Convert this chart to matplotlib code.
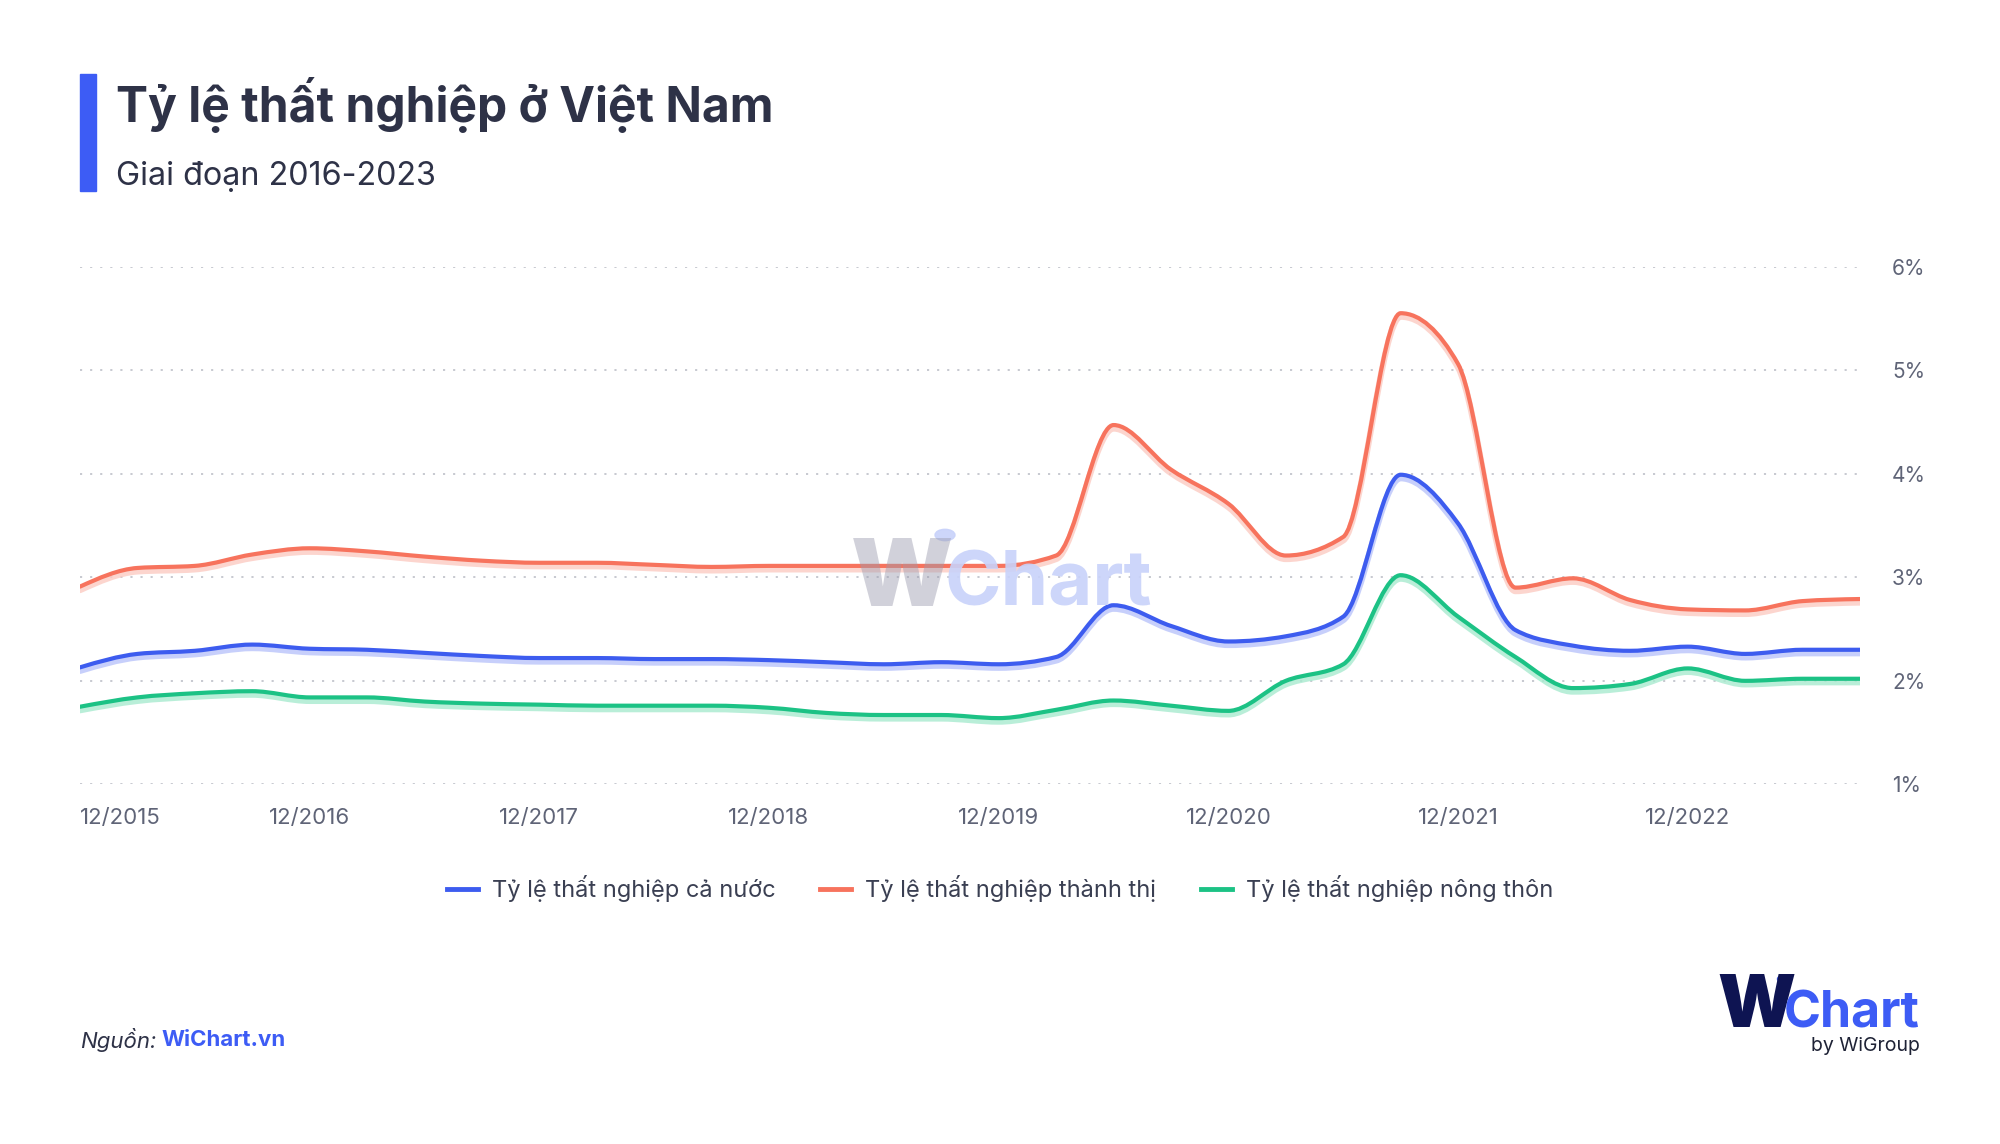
import matplotlib
matplotlib.use("Agg")
import matplotlib.pyplot as plt
import numpy as np
from matplotlib.path import Path
from matplotlib.patches import PathPatch, Rectangle, Circle
from matplotlib.lines import Line2D
import matplotlib.patheffects as pe

plt.rcParams['font.family'] = ['Inter', 'DejaVu Sans']

# ---------------- data ----------------
quarters = ["12/2015", "3/2016", "6/2016", "9/2016", "12/2016", "3/2017", "6/2017", "9/2017",
            "12/2017", "3/2018", "6/2018", "9/2018", "12/2018", "3/2019", "6/2019", "9/2019",
            "12/2019", "3/2020", "6/2020", "9/2020", "12/2020", "3/2021", "6/2021", "9/2021",
            "12/2021", "3/2022", "6/2022", "9/2022", "12/2022", "3/2023", "6/2023", "9/2023"]

ca_nuoc = [2.13, 2.26, 2.29, 2.35, 2.31, 2.30, 2.27, 2.24, 2.22, 2.22, 2.21, 2.21, 2.20, 2.18,
           2.16, 2.18, 2.16, 2.23, 2.73, 2.53, 2.38, 2.43, 2.62, 3.99, 3.52, 2.49, 2.34, 2.29,
           2.33, 2.26, 2.30, 2.30]
thanh_thi = [2.91, 3.09, 3.11, 3.22, 3.28, 3.25, 3.20, 3.16, 3.14, 3.14, 3.12, 3.10, 3.11, 3.11,
             3.11, 3.11, 3.11, 3.21, 4.47, 4.04, 3.71, 3.21, 3.39, 5.55, 5.06, 2.90, 2.99, 2.78,
             2.69, 2.68, 2.77, 2.79]
nong_thon = [1.75, 1.84, 1.88, 1.90, 1.84, 1.84, 1.80, 1.78, 1.77, 1.76, 1.76, 1.76, 1.74, 1.69,
             1.67, 1.67, 1.64, 1.72, 1.81, 1.76, 1.71, 2.00, 2.16, 3.02, 2.62, 2.23, 1.93, 1.97,
             2.12, 2.00, 2.02, 2.02]

series_names = ["Tỷ lệ thất nghiệp cả nước", "Tỷ lệ thất nghiệp thành thị", "Tỷ lệ thất nghiệp nông thôn"]
series_colors = ["#3D5CEF", "#F7735D", "#1CC285"]
shadow_colors = ["#B9C4FA", "#FCCBC2", "#A8EACF"]

y_ticks = [1, 2, 3, 4, 5, 6]
x_tick_labels = ["12/2015", "12/2016", "12/2017", "12/2018", "12/2019", "12/2020", "12/2021", "12/2022"]


def monotone_path(x, y):
    """Bezier path of a monotone cubic (d3 curveMonotoneX style) through the data points."""
    x = np.asarray(x, float)
    y = np.asarray(y, float)
    n = len(x)
    h = np.diff(x)
    s = np.diff(y) / h
    t = np.zeros(n)
    for i in range(1, n - 1):
        h0, h1 = h[i - 1], h[i]
        s0, s1 = s[i - 1], s[i]
        p = (s0 * h1 + s1 * h0) / (h0 + h1)
        t[i] = (np.sign(s0) + np.sign(s1)) * min(abs(s0), abs(s1), 0.5 * abs(p))
    t[0] = (3 * s[0] - t[1]) / 2
    t[-1] = (3 * s[-1] - t[-2]) / 2
    verts = [(x[0], y[0])]
    codes = [Path.MOVETO]
    for i in range(n - 1):
        dx = h[i] / 3
        verts += [(x[i] + dx, y[i] + dx * t[i]), (x[i + 1] - dx, y[i + 1] - dx * t[i + 1]),
                  (x[i + 1], y[i + 1])]
        codes += [Path.CURVE4] * 3
    return Path(verts, codes)


# ---------------- figure ----------------
W, H = 2000, 1144
fig = plt.figure(figsize=(20, 11.44), dpi=100)
fig.patch.set_facecolor("white")

ax = fig.add_axes([80 / W, 1 - 784.4 / H, (1860 - 80) / W, (784.4 - 266.6) / H])
ax.set_facecolor("none")

xs = np.arange(len(quarters))
for vals, col, sh in zip([ca_nuoc, thanh_thi, nong_thon], series_colors, shadow_colors):
    path = monotone_path(xs, vals)
    patch = PathPatch(path, fill=False, edgecolor=col, linewidth=3.0, capstyle="round",
                      joinstyle="round", zorder=3)
    patch.set_path_effects([pe.SimpleLineShadow(offset=(0, -2.5), shadow_color=sh, alpha=0.8,
                                                linewidth=4.5),
                            pe.Normal()])
    ax.add_patch(patch)

ax.set_xlim(0, len(quarters) - 1)
ax.set_ylim(1, 6)

# grid
ax.set_yticks(y_ticks)
ax.yaxis.grid(True, color="#B8BBC4", linestyle=(0, (1.4, 5.2)), linewidth=1.1)
ax.xaxis.grid(False)
for sp in ax.spines.values():
    sp.set_visible(False)
ax.yaxis.tick_right()
ax.set_yticklabels([f"{v}%" for v in y_ticks])
ax.tick_params(axis="y", length=0, pad=23, labelsize=15, labelcolor="#5F6477")

xt = [quarters.index(lbl) for lbl in x_tick_labels]
ax.set_xticks(xt)
ax.set_xticklabels(x_tick_labels)
ax.tick_params(axis="x", length=0, pad=17, labelsize=16, labelcolor="#5F6477")
ax.get_xticklabels()[0].set_horizontalalignment("left")
for lab in ax.get_yticklabels():
    lab.set_horizontalalignment("left")

# watermark
fig.text(851 / W, 1 - 606 / H, "W", fontsize=68, fontweight="black", color="#9B9BAE",
         alpha=0.45, ha="left", va="baseline", zorder=1)
fig.add_artist(Circle((945 / W, 1 - 535 / H), 10 / W, transform=fig.transFigure,
                      color="#C8D2FA", alpha=0.9, zorder=1))
fig.text(944 / W, 1 - 606 / H, "Chart", fontsize=55, fontweight="bold", color="#C8D2FA",
         alpha=0.9, ha="left", va="baseline", zorder=1)

# title block
fig.add_artist(Rectangle((80 / W, 1 - 191 / H), 16 / W, 117 / H, transform=fig.transFigure,
                         color="#3D5CF5", zorder=2))
fig.text(116 / W, 1 - 122 / H, "Tỷ lệ thất nghiệp ở Việt Nam", fontsize=34.5, fontweight="bold",
         color="#2E3247", ha="left", va="baseline")
fig.text(116 / W, 1 - 185 / H, "Giai đoạn 2016-2023", fontsize=23.3, color="#2E3247",
         ha="left", va="baseline")

# legend
handles = [Line2D([], [], color=c, linewidth=3.5) for c in series_colors]
fig.legend(handles, series_names, loc="center", bbox_to_anchor=(0.5, 1 - 889 / H), ncol=3,
           frameon=False, fontsize=17, handlelength=1.3, handletextpad=0.6, columnspacing=1.9,
           labelcolor="#3A3F52")

# footer
fig.text(80 / W, 1 - 1040 / H, "Nguồn:", fontsize=16, style="italic", color="#2E3247",
         ha="left", va="center")
fig.text(161 / W, 1 - 1040 / H, "WiChart.vn", fontsize=16, fontweight="bold", color="#3D5CF5",
         ha="left", va="center")

# logo
fig.text(1717 / W, 1 - 1027 / H, "W", fontsize=52, fontweight="black", color="#0E1452",
         ha="left", va="baseline")
fig.add_artist(Circle((1784 / W, 1 - 979 / H), 6.5 / W, transform=fig.transFigure,
                      color="#3D5CF5"))
fig.text(1920 / W, 1 - 1027 / H, "Chart", fontsize=36, fontweight="bold", color="#3D5CF5",
         ha="right", va="baseline")
fig.text(1920 / W, 1 - 1046 / H, "by WiGroup", fontsize=14, color="#1E2235",
         ha="right", va="center")

fig.savefig("out.png", dpi=100, facecolor="white")
